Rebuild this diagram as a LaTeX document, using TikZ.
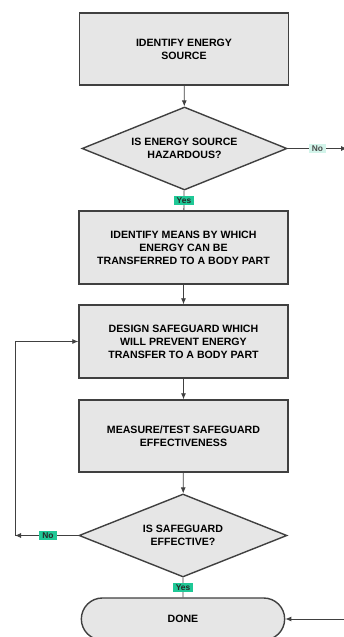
\documentclass[tikz,border=0pt]{standalone}
\usepackage{fontspec}
\setmainfont{Liberation Sans}
\usetikzlibrary{shapes.geometric,shapes.misc,arrows.meta}
\definecolor{boxfill}{HTML}{E6E6E6}
\definecolor{boxline}{HTML}{404040}
\definecolor{mint}{HTML}{1FC896}
\tikzset{
  stepbox/.style={draw=boxline,fill=boxfill,line width=1.4pt,minimum width=209pt,
    minimum height=72pt,align=center,inner sep=2pt,
    font=\fontsize{10.6}{13}\selectfont\bfseries},
  ask/.style={diamond,draw=boxline,fill=boxfill,line width=1.4pt,aspect=2.5,inner sep=0pt,
    align=center,font=\fontsize{10.6}{13}\selectfont\bfseries},
  endbox/.style={rounded rectangle,draw=boxline,fill=boxfill,line width=1.4pt,
    minimum width=210pt,minimum height=42pt,font=\fontsize{10.6}{13}\selectfont\bfseries},
  flow/.style={draw=black!75,line width=0.8pt,-{Latex[length=6pt,width=5pt]}},
  tag/.style={fill=mint,text=black!85,inner xsep=3pt,inner ysep=1.5pt,
    font=\fontsize{8.4}{9}\selectfont\bfseries},
}
\begin{document}
\begin{tikzpicture}[x=1pt,y=-1pt]
\useasboundingbox (0,0) rectangle (344,637);
\node[stepbox] (source) at (184,49) {IDENTIFY ENERGY\\SOURCE};
\node[ask,minimum width=205pt,minimum height=83pt] (hazard) at (184.5,148.5) {IS ENERGY SOURCE\\HAZARDOUS?};
\node[stepbox,minimum height=73pt] (means) at (183.5,247.5) {IDENTIFY MEANS BY WHICH\\ENERGY CAN BE\\TRANSFERRED TO A BODY PART};
\node[stepbox,minimum height=73pt] (design) at (183.5,341.5) {DESIGN SAFEGUARD WHICH\\WILL PREVENT ENERGY\\TRANSFER TO A BODY PART};
\node[stepbox] (measure) at (183.5,436) {MEASURE/TEST SAFEGUARD\\EFFECTIVENESS};
\node[ask,minimum width=208pt,minimum height=83pt] (effective) at (183,535.5) {IS SAFEGUARD\\EFFECTIVE?};
\node[endbox] (done) at (183,619) {DONE};

\coordinate (loopcorner) at (15,535.5);
\coordinate (offright) at (347,148.5);
\coordinate (fromright) at (350,619);

\draw[flow] (source) -- (hazard);
\draw[draw=black!75,line width=0.8pt] (hazard) -- node[tag] {Yes} (means);
\draw[flow] (means) -- (design);
\draw[flow] (design) -- (measure);
\draw[flow] (measure) -- (effective);
\draw[draw=black!75,line width=0.8pt] (effective) -- node[tag] {Yes} (done);
\draw[flow] (hazard.east) -- node[tag,fill=mint!20,text=black!70] {No} (offright);
\draw[flow] (effective.west) -- node[tag,pos=0.48] {No} (loopcorner);
\draw[flow] (loopcorner) |- (design.west);
\draw[flow] (fromright) -- (done.east);
\end{tikzpicture}
\end{document}
